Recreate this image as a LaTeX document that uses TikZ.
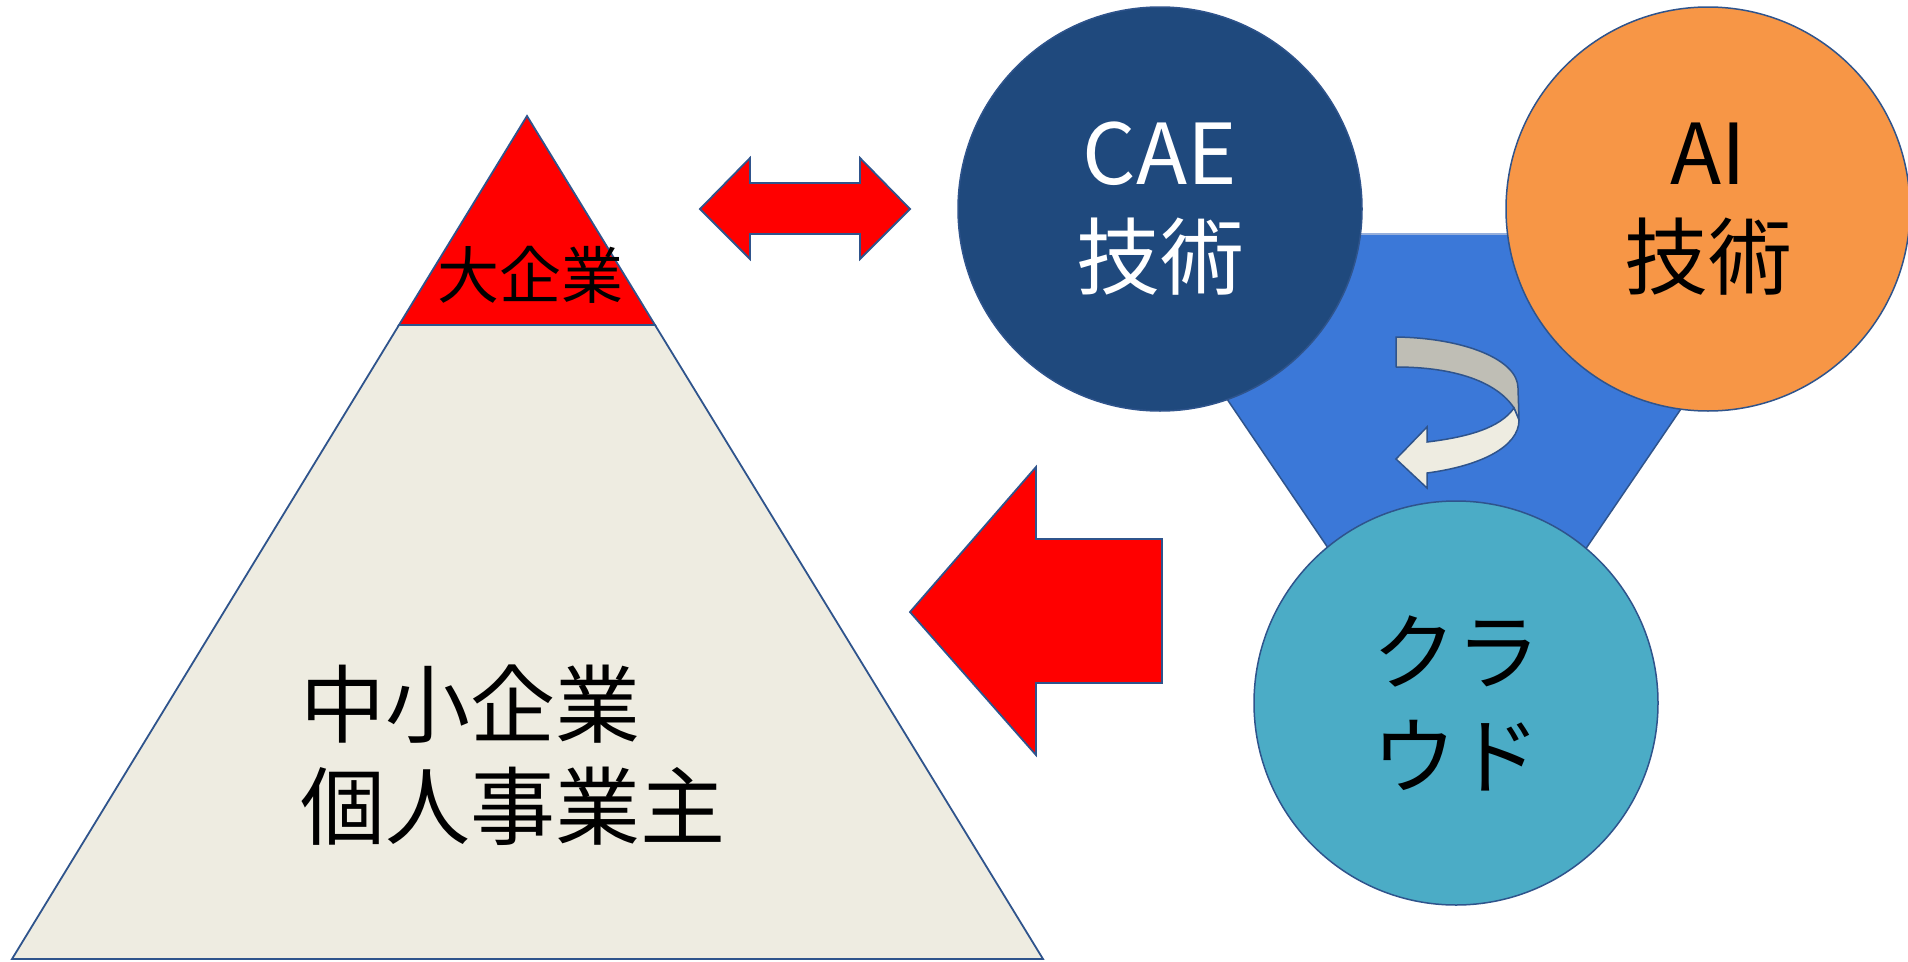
\documentclass[tikz,border=0pt]{standalone}
\usepackage{fontspec}
\newfontfamily\jp{Noto Sans CJK JP}
\definecolor{outl}{RGB}{47,84,140}
\definecolor{redf}{RGB}{255,0,0}
\definecolor{beige}{RGB}{238,236,225}
\definecolor{grayb}{RGB}{191,190,181}
\definecolor{caeblue}{RGB}{31,73,125}
\definecolor{aiorange}{RGB}{247,150,70}
\definecolor{cloudc}{RGB}{75,172,198}
\definecolor{triblue}{RGB}{59,120,216}
\definecolor{toplight}{RGB}{150,175,220}
\tikzset{
  shapeline/.style={draw=outl, line width=1.8pt, line join=miter},
  bubble/.style={circle, minimum size=404pt, inner sep=0pt, draw=outl, line width=1.5pt,
     align=center, font=\jp\fontsize{84}{104}\selectfont},
  bigtext/.style={inner sep=0pt, font=\jp\fontsize{85}{102}\selectfont, align=left},
}
\begin{document}
\begin{tikzpicture}[x=1pt,y=-1pt]
\useasboundingbox (0,0) rectangle (1908,961);
\fill[white] (0,0) rectangle (1908,961);
% pyramid
\coordinate (apex) at (527,116);
\coordinate (bl) at (12,959);
\coordinate (br) at (1043,959);
\coordinate (ml) at (399,325);
\coordinate (mr) at (655,325);
\filldraw[fill=beige, shapeline] (ml) -- (mr) -- (br) -- (bl) -- cycle;
\filldraw[fill=redf, shapeline] (apex) -- (mr) -- (ml) -- cycle;
\node[inner sep=0pt, font=\jp\fontsize{62}{62}\selectfont] (big) at (530,275) {大企業};
\node[bigtext, anchor=west] (small) at (300,755) {中小企業\\個人事業主};
% double arrow
\filldraw[fill=redf, shapeline] (700,209) -- (750,158) -- (750,183) -- (860,183) -- (860,158)
  -- (910,209) -- (860,259) -- (860,234) -- (750,234) -- (750,259) -- cycle;
% big arrow
\filldraw[fill=redf, shapeline] (910,612) -- (1036,467) -- (1036,539) -- (1162,539)
  -- (1162,683) -- (1036,683) -- (1036,755) -- cycle;
% blue triangle behind circles
\filldraw[fill=triblue, draw=outl, line width=1.5pt] (1115,234) -- (1800,234) -- (1457,738) -- cycle;
\draw[toplight, line width=1.5pt] (1115,234) -- (1800,234);
% circles
\node[bubble, fill=caeblue, text=white] (cae) at (1160,209) {CAE\\技術};
\node[bubble, fill=aiorange, text=black] (ai) at (1708,209) {AI\\技術};
\node[bubble, fill=cloudc, text=black] (cloud) at (1456,703) {クラ\\ウド};
% curved arrow
\filldraw[fill=grayb, draw=outl, line width=1.5pt, line join=round]
  (1396,337) .. controls (1465,338) and (1518,360) .. (1518,388) -- (1519,420) -- (1514,408)
  .. controls (1497,382) and (1455,367) .. (1396,367) -- cycle;
\filldraw[fill=beige, draw=outl, line width=1.5pt, line join=miter]
  (1514,408) .. controls (1500,428) and (1468,437) .. (1427,442) -- (1427,427) -- (1396,459)
  -- (1427,488) -- (1427,473) .. controls (1480,466) and (1519,447) .. (1519,420) -- cycle;
\end{tikzpicture}
\end{document}
